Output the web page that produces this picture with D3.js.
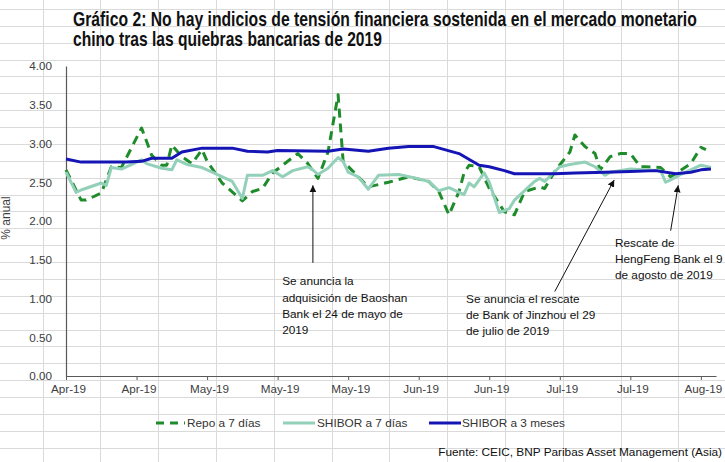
<!DOCTYPE html>
<html>
<head>
<meta charset="utf-8">
<script src="https://cdn.jsdelivr.net/npm/d3@7/dist/d3.min.js"></script>
<style>
  html, body { margin: 0; padding: 0; background: #fff; }
  svg { display: block; }
  text { font-family: "Liberation Sans", Arial, sans-serif; }
</style>
</head>
<body>
<svg id="chart" width="725" height="462"></svg>
<script>
// ---------- data (days counted from 2019-04-04) ----------
const startDate = "2019-04-04";
const tickDays = [0, 14, 28, 42, 56, 70, 84, 98, 112, 126];
const yTicks = [0, 0.5, 1, 1.5, 2, 2.5, 3, 3.5, 4];

const repoDays = [0,3,4,7,9,11,15,17,19,20,21,23,25,27,28,31,35,37,39,41,46,48,50,52,54,55,58,60,64,68,72,74,76,78,79,80,82,84,87,89,91,94,95,97,100,101,103,105,106,108,110,112,114,115,118,120,124,126,127];
const repoValues = [2.66,2.27,2.27,2.36,2.70,2.69,3.20,2.85,2.72,2.72,2.98,2.83,2.74,2.92,2.77,2.49,2.26,2.38,2.42,2.62,2.87,2.74,2.55,2.89,3.63,2.77,2.57,2.44,2.50,2.57,2.51,2.38,2.08,2.38,2.62,2.72,2.70,2.42,2.12,2.08,2.38,2.44,2.42,2.64,2.89,3.11,2.96,2.87,2.66,2.83,2.87,2.87,2.70,2.70,2.69,2.57,2.74,2.95,2.92];

const shibor7Days = [0,2,3,7,8,9,11,15,16,19,21,22,24,27,29,32,33,35,36,39,41,43,45,48,49,50,52,54,55,56,58,60,62,66,69,72,74,76,79,80,81,83,84,86,88,89,93,94,95,98,100,103,105,107,108,112,118,119,120,122,126,128];
const shibor7Values = [2.63,2.37,2.40,2.49,2.46,2.69,2.67,2.79,2.74,2.68,2.66,2.79,2.73,2.69,2.63,2.54,2.51,2.29,2.59,2.59,2.65,2.57,2.65,2.70,2.66,2.60,2.68,2.82,2.77,2.63,2.57,2.41,2.59,2.60,2.56,2.51,2.39,2.43,2.34,2.49,2.44,2.62,2.50,2.11,2.16,2.27,2.51,2.55,2.51,2.70,2.73,2.76,2.70,2.59,2.63,2.67,2.65,2.50,2.53,2.60,2.72,2.69];

const shibor3mDays = [0,3,12,15,17,21,23,27,33,36,40,42,52,55,60,64,68,73,78,82,84,87,89,97,101,107,112,117,121,124,126,128];
const shibor3mValues = [2.80,2.76,2.76,2.77,2.81,2.81,2.89,2.94,2.94,2.90,2.89,2.91,2.90,2.93,2.90,2.94,2.96,2.96,2.87,2.72,2.70,2.65,2.61,2.61,2.62,2.63,2.64,2.65,2.61,2.63,2.66,2.67];

const seriesNames = ["Repo a 7 días", "SHIBOR a 7 días", "SHIBOR a 3 meses"];

const titleLines = [
  "Gráfico 2: No hay indicios de tensión financiera sostenida en el mercado monetario",
  "chino tras las quiebras bancarias de 2019"
];
const yTitle = "% anual";
const sourceText = "Fuente: CEIC, BNP Paribas Asset Management (Asia)";

// annotations: arrow tip / tail and text anchor in (day, value)
const annotations = [
  { lines: ["Se anuncia la", "adquisición de Baoshan", "Bank el 24 de mayo de", "2019"],
    tip: [49.0, 2.46], tail: [49.0, 1.46], text: [42.9, 1.17] },
  { lines: ["Se anuncia el rescate", "de Bank of Jinzhou el 29", "de julio de 2019"],
    tip: [108.8, 2.53], tail: [97.0, 1.09], text: [79.4, 0.945] },
  { lines: ["Rescate de", "HengFeng Bank el 9", "de agosto de 2019"],
    tip: [121.5, 2.46], tail: [120.0, 1.875], text: [108.95, 1.668] }
];

// ---------- setup ----------
const W = 725, H = 462;
const svg = d3.select("#chart");
const t0 = d3.utcParse("%Y-%m-%d")(startDate).getTime();
const toDate = d => new Date(t0 + d * 864e5);

const x = d3.scaleUtc().domain([toDate(0), toDate(129)]).range([66, 716]);
const y = d3.scaleLinear().domain([0, 4]).range([376, 66]);

// spreadsheet cell grid in the background
const bg = svg.append("g");
const colX = d3.range(42.5, W, 57.8);
const rowY = d3.range(8.9, H, 16.88);
bg.selectAll("line.c").data(colX).join("line")
  .attr("x1", d => Math.round(d) + 0.5).attr("x2", d => Math.round(d) + 0.5)
  .attr("y1", 0).attr("y2", H).attr("stroke", "#dadada").attr("stroke-width", 1);
bg.selectAll("line.r").data(rowY).join("line")
  .attr("y1", d => Math.round(d) + 0.5).attr("y2", d => Math.round(d) + 0.5)
  .attr("x1", 0).attr("x2", W).attr("stroke", "#dadada").attr("stroke-width", 1);

// title (condensed by a horizontal scale to the reference widths)
const titleWidths = [624, 309];
titleLines.forEach((t, i) => {
  const g = svg.append("g");
  const tx = g.append("text")
    .attr("font-family", "'Liberation Sans Narrow', 'Liberation Sans', Arial, sans-serif")
    .attr("font-size", 20).attr("font-weight", "bold").attr("fill", "#111")
    .text(t);
  const natural = tx.node().getComputedTextLength() || titleWidths[i];
  g.attr("transform", `translate(73,${26 + i * 20}) scale(${titleWidths[i] / natural},1)`);
});

// y axis
const yAxis = svg.append("g").attr("transform", "translate(66,0)")
  .call(d3.axisLeft(y).tickValues(yTicks).tickFormat(d3.format(".2f")).tickSize(0).tickPadding(14));
yAxis.select(".domain").attr("stroke", "#595959").attr("stroke-width", 1.2);
yAxis.selectAll("text").attr("font-size", 11.7).attr("fill", "#404040")
  .attr("font-family", "'Liberation Sans', Arial, sans-serif");

// x axis
const xAxis = svg.append("g").attr("transform", "translate(0,376)")
  .call(d3.axisBottom(x).tickValues(tickDays.map(toDate)).tickFormat(d3.utcFormat("%b-%y")).tickSizeInner(4).tickSizeOuter(0).tickPadding(5));
xAxis.select(".domain").attr("stroke", "#595959").attr("stroke-width", 1.2);
xAxis.selectAll(".tick line").attr("stroke", "#595959");
xAxis.selectAll("text").attr("font-size", 11.7).attr("fill", "#404040")
  .attr("dx", 2)
  .attr("font-family", "'Liberation Sans', Arial, sans-serif");

// y title
svg.append("text").attr("transform", "translate(10,218) rotate(-90)")
  .attr("text-anchor", "middle").attr("font-size", 12).attr("fill", "#404040")
  .text(yTitle);

// lines
const styles = [
  { color: "#1f8c2b", width: 3, dash: "9,6" },
  { color: "#93d0b9", width: 3, dash: null },
  { color: "#1515b5", width: 3, dash: null }
];
const series = [
  d3.zip(repoDays, repoValues),
  d3.zip(shibor7Days, shibor7Values),
  d3.zip(shibor3mDays, shibor3mValues)
];
const line = d3.line().x(d => x(toDate(d[0]))).y(d => y(d[1]));
const plot = svg.append("g");
series.forEach((s, i) => {
  plot.append("path").datum(s)
    .attr("d", line)
    .attr("fill", "none")
    .attr("stroke", styles[i].color)
    .attr("stroke-width", styles[i].width)
    .attr("stroke-linejoin", "round")
    .attr("stroke-dasharray", styles[i].dash);
});

// annotations
svg.append("defs").append("marker")
  .attr("id", "arrow").attr("viewBox", "0 0 10 10")
  .attr("refX", 10).attr("refY", 5)
  .attr("markerWidth", 7).attr("markerHeight", 7)
  .attr("markerUnits", "userSpaceOnUse")
  .attr("orient", "auto")
  .append("path").attr("d", "M0,0 L10,5 L0,10 Z").attr("fill", "#111");

const ann = svg.append("g");
annotations.forEach(a => {
  ann.append("line")
    .attr("x1", x(toDate(a.tail[0]))).attr("y1", y(a.tail[1]))
    .attr("x2", x(toDate(a.tip[0]))).attr("y2", y(a.tip[1]))
    .attr("stroke", "#111").attr("stroke-width", 1)
    .attr("marker-end", "url(#arrow)");
  const tx = x(toDate(a.text[0])), ty = y(a.text[1]);
  ann.append("g").selectAll("text").data(a.lines).join("text")
    .attr("x", tx).attr("y", (d, i) => ty + i * 16.3)
    .attr("font-size", 11.8).attr("fill", "#111")
    .text(d => d);
});

// legend
const legendItems = [
  { x1: 153, x2: 185, tx: 187 },
  { x1: 283, x2: 315, tx: 317 },
  { x1: 429, x2: 461, tx: 462 }
];
const lg = svg.append("g").attr("transform", "translate(0,423)");
legendItems.forEach((it, i) => {
  lg.append("line").attr("x1", it.x1).attr("x2", it.x2).attr("y1", 0).attr("y2", 0)
    .attr("stroke", styles[i].color).attr("stroke-width", 3)
    .attr("stroke-dasharray", i === 0 ? "8,6" : null)
    .attr("stroke-dashoffset", i === 0 ? -3 : null);
  lg.append("text").attr("x", it.tx).attr("y", 4.3)
    .attr("font-size", 11.8).attr("fill", "#333").text(seriesNames[i]);
});

// source
svg.append("text").attr("x", 722).attr("y", 456).attr("text-anchor", "end")
  .attr("font-size", 11.8).attr("fill", "#111")
  .text(sourceText);
</script>
</body>
</html>
